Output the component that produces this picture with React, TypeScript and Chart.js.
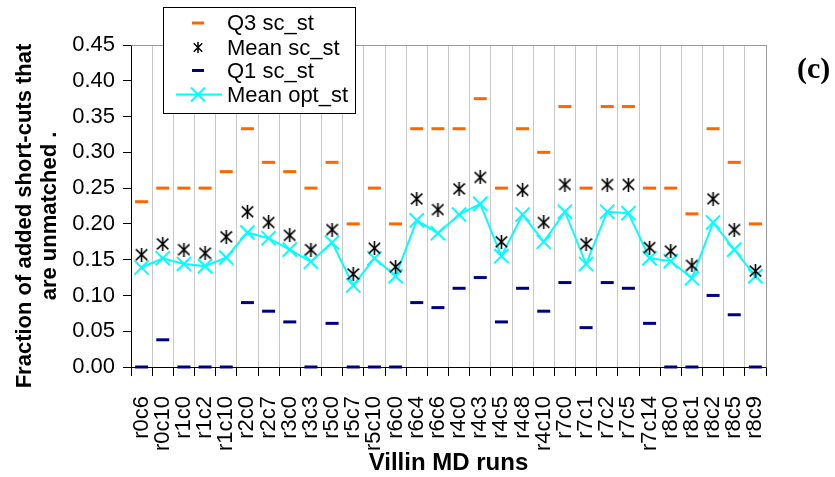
import React, { useEffect, useRef } from 'react';
import { Chart, registerables } from 'chart.js';

Chart.register(...registerables);

const runs = ['r0c6','r0c10','r1c0','r1c2','r1c10','r2c0','r2c7','r3c0','r3c3','r5c0','r5c7','r5c10','r6c0','r6c4','r6c6','r4c0','r4c3','r4c5','r4c8','r4c10','r7c0','r7c1','r7c2','r7c5','r7c14','r8c0','r8c1','r8c2','r8c5','r8c9'];

const q3ScSt = [0.231,0.25,0.25,0.25,0.273,0.333,0.286,0.273,0.25,0.286,0.2,0.25,0.2,0.333,0.333,0.333,0.375,0.25,0.333,0.3,0.364,0.25,0.364,0.364,0.25,0.25,0.214,0.333,0.286,0.2];
const meanScSt = [0.157,0.172,0.164,0.159,0.182,0.217,0.202,0.184,0.164,0.192,0.130,0.166,0.140,0.235,0.220,0.249,0.265,0.175,0.247,0.202,0.255,0.172,0.255,0.255,0.167,0.162,0.142,0.235,0.192,0.134];
const q1ScSt = [0,0.038,0,0,0,0.090,0.078,0.063,0,0.061,0,0,0,0.090,0.083,0.110,0.125,0.063,0.110,0.078,0.118,0.055,0.118,0.110,0.061,0,0,0.100,0.073,0];
const meanOptSt = [0.139,0.152,0.144,0.141,0.153,0.188,0.180,0.164,0.147,0.174,0.114,0.152,0.127,0.205,0.187,0.213,0.228,0.155,0.213,0.175,0.217,0.144,0.217,0.215,0.152,0.148,0.124,0.202,0.164,0.127];

const seriesNames = ['Q3 sc_st', 'Mean sc_st', 'Q1 sc_st', 'Mean opt_st'];
const yTitle = ['Fraction of added short-cuts that', 'are unmatched .'];
const xTitle = 'Villin MD runs';
const panelLabel = '(c)';

const ORANGE = '#FF6600';
const NAVY = '#000080';
const CYAN = '#00FFFF';
const FONT = '"Liberation Sans", Arial, sans-serif';

function makeAsterisk(w: number, h: number, lw: number): HTMLCanvasElement {
  const c = document.createElement('canvas');
  c.width = w;
  c.height = h;
  const ctx = c.getContext('2d')!;
  ctx.strokeStyle = '#000';
  ctx.lineWidth = lw;
  ctx.beginPath();
  ctx.moveTo(w / 2, 0);
  ctx.lineTo(w / 2, h);
  ctx.moveTo(lw / 2, h * 0.12);
  ctx.lineTo(w - lw / 2, h * 0.88);
  ctx.moveTo(w - lw / 2, h * 0.12);
  ctx.lineTo(lw / 2, h * 0.88);
  ctx.stroke();
  return c;
}

export default function App() {
  const ref = useRef<HTMLCanvasElement>(null);

  useEffect(() => {
    const canvas = ref.current!;
    const asterisk = makeAsterisk(13, 14, 1.6);
    const asteriskSmall = makeAsterisk(10, 11, 1.5);

    const frame = {
      id: 'frameAndLegend',
      afterDraw(chart: any) {
        const { ctx, chartArea } = chart;
        ctx.save();
        // plot border top/right
        ctx.strokeStyle = '#999999';
        ctx.lineWidth = 1;
        ctx.beginPath();
        ctx.moveTo(Math.round(chartArea.left) + 0.5, Math.round(chartArea.top) + 0.5);
        ctx.lineTo(Math.round(chartArea.right) + 0.5, Math.round(chartArea.top) + 0.5);
        ctx.lineTo(Math.round(chartArea.right) + 0.5, Math.round(chartArea.bottom) + 0.5);
        ctx.stroke();

        // y axis title (two lines, rotated)
        ctx.save();
        ctx.translate(0, 216);
        ctx.rotate(-Math.PI / 2);
        ctx.font = `bold 22px ${FONT}`;
        ctx.fillStyle = '#000';
        ctx.textAlign = 'center';
        ctx.textBaseline = 'middle';
        ctx.fillText(yTitle[0], 0, 25);
        ctx.fillText(yTitle[1], 0, 50);
        ctx.restore();

        // legend box
        const lx = 163, ly = 7, lw = 192, lh = 106;
        ctx.fillStyle = '#ffffff';
        ctx.fillRect(lx, ly, lw, lh);
        ctx.strokeStyle = '#000';
        ctx.lineWidth = 1;
        ctx.strokeRect(lx + 0.5, ly + 0.5, lw, lh);
        const ds = chart.data.datasets;
        const rows = [23, 47.5, 70.5, 94.5];
        const mx = 198;
        ctx.font = `22px ${FONT}`;
        ctx.textBaseline = 'middle';
        ctx.textAlign = 'left';
        ds.forEach((d: any, i: number) => {
          const y = rows[i];
          if (i === 0 || i === 2) {
            ctx.strokeStyle = d.pointBorderColor;
            ctx.lineWidth = 3;
            ctx.beginPath();
            ctx.moveTo(mx - 6, y);
            ctx.lineTo(mx + 6, y);
            ctx.stroke();
          } else if (i === 1) {
            ctx.drawImage(asteriskSmall, mx - 5, y - 5.5);
          } else {
            ctx.strokeStyle = d.borderColor;
            ctx.lineWidth = 2;
            ctx.beginPath();
            ctx.moveTo(mx - 22, y);
            ctx.lineTo(mx + 24, y);
            ctx.moveTo(mx - 7, y - 7);
            ctx.lineTo(mx + 7, y + 7);
            ctx.moveTo(mx + 7, y - 7);
            ctx.lineTo(mx - 7, y + 7);
            ctx.stroke();
          }
          ctx.fillStyle = '#000';
          ctx.fillText(d.label, 227, y + 1);
        });

        // panel label
        ctx.font = `bold 30px "Liberation Serif", "Times New Roman", serif`;
        ctx.fillStyle = '#000';
        ctx.fillText(panelLabel, 797, 70);
        ctx.restore();
      },
    };

    const chart = new Chart(canvas, {
      type: 'line',
      data: {
        labels: runs,
        datasets: [
          {
            label: seriesNames[0],
            data: q3ScSt,
            showLine: false,
            pointStyle: 'line',
            pointRadius: 6.5,
            pointBorderWidth: 3,
            pointBorderColor: ORANGE,
            borderColor: ORANGE,
            backgroundColor: ORANGE,
            clip: false,
          },
          {
            label: seriesNames[1],
            data: meanScSt,
            showLine: false,
            pointStyle: asterisk as any,
            pointRadius: 7,
            borderColor: '#000',
            backgroundColor: '#000',
            clip: false,
          },
          {
            label: seriesNames[2],
            data: q1ScSt,
            showLine: false,
            pointStyle: 'line',
            pointRadius: 6.5,
            pointBorderWidth: 3,
            pointBorderColor: NAVY,
            borderColor: NAVY,
            backgroundColor: NAVY,
            clip: false,
          },
          {
            label: seriesNames[3],
            data: meanOptSt,
            borderColor: CYAN,
            backgroundColor: CYAN,
            borderWidth: 2,
            pointStyle: 'crossRot',
            pointRadius: 10,
            pointBorderWidth: 2,
            pointBorderColor: CYAN,
            tension: 0,
            clip: false,
          },
        ],
      },
      options: {
        responsive: false,
        animation: false,
        events: [],
        layout: { padding: { left: 0, top: 45, right: 69, bottom: 0 } },
        plugins: {
          legend: { display: false },
          tooltip: { enabled: false },
          title: { display: false },
        },
        scales: {
          x: {
            type: 'category',
            offset: true,
            afterFit: (s: any) => { s.height = 110; },
            grid: {
              display: true,
              offset: true,
              color: '#c8c8c8',
              tickColor: '#000',
              tickLength: 9,
              drawOnChartArea: true,
            },
            border: { display: true, color: '#000', width: 1 },
            ticks: {
              autoSkip: false,
              minRotation: 90,
              maxRotation: 90,
              padding: 20,
              color: '#000',
              font: { family: FONT, size: 22 },
            },
            title: {
              display: true,
              text: xTitle,
              color: '#000',
              font: { family: FONT, size: 24, weight: 'bold', lineHeight: 1.1 },
              padding: { top: 0, bottom: 0 },
            },
          },
          y: {
            min: 0,
            max: 0.45,
            afterFit: (s: any) => { s.width = 131; },
            grid: {
              display: true,
              drawOnChartArea: false,
              tickColor: '#000',
              tickLength: 8,
            },
            border: { display: true, color: '#000', width: 1 },
            ticks: {
              stepSize: 0.05,
              padding: 8,
              color: '#000',
              font: { family: FONT, size: 22 },
              callback: (v: any) => Number(v).toFixed(2),
            },
          },
        },
      },
      plugins: [frame],
    });

    return () => chart.destroy();
  }, []);

  return (
    <div style={{ position: 'absolute', left: 0, top: 0, width: 835, height: 477, background: '#fff' }}>
      <canvas ref={ref} width={835} height={477} style={{ display: 'block' }} />
    </div>
  );
}
